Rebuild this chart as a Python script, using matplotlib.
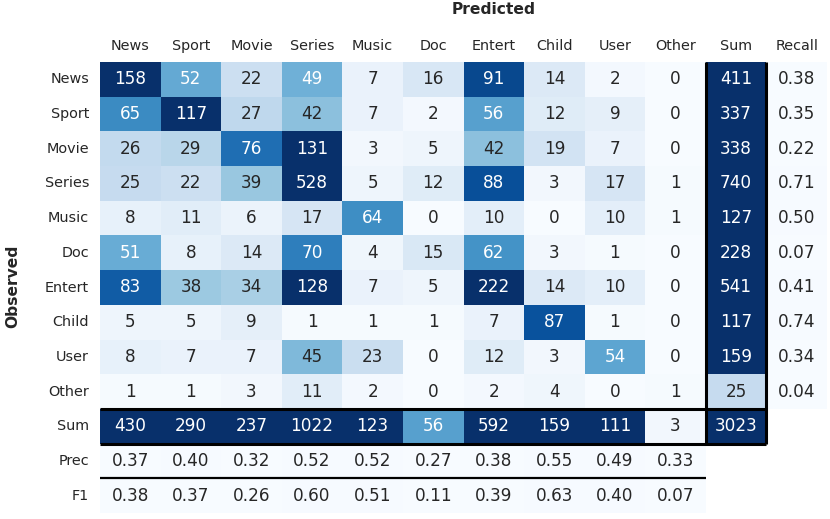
import matplotlib
matplotlib.use("Agg")
import matplotlib.pyplot as plt
import numpy as np
import seaborn as sns

classes = ["News", "Sport", "Movie", "Series", "Music", "Doc", "Entert", "Child", "User", "Other"]

# observed (rows) x predicted (cols)
counts = [
    [158, 52, 22, 49, 7, 16, 91, 14, 2, 0],
    [65, 117, 27, 42, 7, 2, 56, 12, 9, 0],
    [26, 29, 76, 131, 3, 5, 42, 19, 7, 0],
    [25, 22, 39, 528, 5, 12, 88, 3, 17, 1],
    [8, 11, 6, 17, 64, 0, 10, 0, 10, 1],
    [51, 8, 14, 70, 4, 15, 62, 3, 1, 0],
    [83, 38, 34, 128, 7, 5, 222, 14, 10, 0],
    [5, 5, 9, 1, 1, 1, 7, 87, 1, 0],
    [8, 7, 7, 45, 23, 0, 12, 3, 54, 0],
    [1, 1, 3, 11, 2, 0, 2, 4, 0, 1],
]
row_sum = [411, 337, 338, 740, 127, 228, 541, 117, 159, 25]
col_sum = [430, 290, 237, 1022, 123, 56, 592, 159, 111, 3]
total = 3023
recall = [0.38, 0.35, 0.22, 0.71, 0.50, 0.07, 0.41, 0.74, 0.34, 0.04]
precision = [0.37, 0.40, 0.32, 0.52, 0.52, 0.27, 0.38, 0.55, 0.49, 0.33]
f1 = [0.38, 0.37, 0.26, 0.60, 0.51, 0.11, 0.39, 0.63, 0.40, 0.07]

col_labels = classes + ["Sum", "Recall"]
row_labels = classes + ["Sum", "Prec", "F1"]

n = len(classes)
mat = np.full((n + 3, n + 2), np.nan)
annot = np.full(mat.shape, "", dtype=object)

for i in range(n):
    for j in range(n):
        mat[i, j] = counts[i][j]
        annot[i, j] = str(counts[i][j])
    mat[i, n] = row_sum[i]
    annot[i, n] = str(row_sum[i])
    mat[i, n + 1] = recall[i]
    annot[i, n + 1] = f"{recall[i]:.2f}"
for j in range(n):
    mat[n, j] = col_sum[j]
    annot[n, j] = str(col_sum[j])
    mat[n + 1, j] = precision[j]
    annot[n + 1, j] = f"{precision[j]:.2f}"
    mat[n + 2, j] = f1[j]
    annot[n + 2, j] = f"{f1[j]:.2f}"
mat[n, n] = total
annot[n, n] = str(total)

W, H = 830, 519
fig = plt.figure(figsize=(W / 100, H / 100), dpi=100)
ax = fig.add_axes([100 / W, 6 / H, 727 / W, 451 / H])

sns.heatmap(mat, ax=ax, cmap="Blues", vmin=0, vmax=100, annot=annot, fmt="",
            cbar=False, annot_kws={"size": 12.2},
            xticklabels=col_labels, yticklabels=row_labels)

ax.xaxis.tick_top()
ax.tick_params(axis="x", length=0, pad=6.2, labelsize=10.4, labelcolor="#262626")
ax.tick_params(axis="y", length=0, pad=7.9, labelsize=10.4, labelcolor="#262626", rotation=0)

# separator lines around the sums block
ax.vlines([n, n + 1], 0, n + 1, colors="black", linewidth=2.2)
ax.hlines([n, n + 1], 0, n + 1, colors="black", linewidth=2.2)
ax.hlines(n + 2, 0, n, colors="black", linewidth=1.6)

fig.text(494 / W, 1 - 9 / H, "Predicted", ha="center", va="center",
         fontsize=11.2, fontweight="bold", color="#262626")
fig.text(13 / W, 1 - 286 / H, "Observed", ha="center", va="center", rotation=90,
         fontsize=11.2, fontweight="bold", color="#262626")

fig.savefig("out.png", dpi=100)
